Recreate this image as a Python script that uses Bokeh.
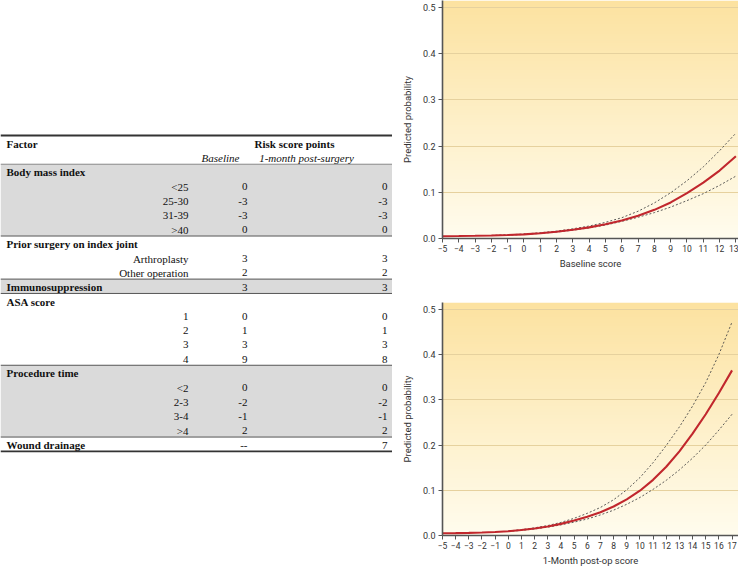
import numpy as np
from bokeh.plotting import figure
from bokeh.layouts import row, column
from bokeh.models import Range1d, FixedTicker, PrintfTickFormatter, CustomJSTickFormatter, ColumnDataSource
from bokeh.core.properties import value
from bokeh.embed import file_html
from bokeh.resources import INLINE

# ---------------- table data ----------------
factor_names = ["Body mass index", "Prior surgery on index joint", "Immunosuppression",
                "ASA score", "Procedure time", "Wound drainage"]
factor_baseline = ["", "", "3", "", "", "--"]
factor_month = ["", "", "3", "", "", "7"]
factor_shaded = [True, False, True, False, True, False]

bmi_levels = ["<25", "25-30", "31-39", ">40"]
bmi_baseline = [0, -3, -3, 0]
bmi_month = [0, -3, -3, 0]
prior_levels = ["Arthroplasty", "Other operation"]
prior_baseline = [3, 2]
prior_month = [3, 2]
asa_levels = ["1", "2", "3", "4"]
asa_baseline = [0, 1, 3, 9]
asa_month = [0, 1, 3, 8]
proc_levels = ["<2", "2-3", "3-4", ">4"]
proc_baseline = [0, -2, -1, 2]
proc_month = [0, -2, -1, 2]

level_labels = [bmi_levels, prior_levels, [], asa_levels, proc_levels, []]
level_baseline = [bmi_baseline, prior_baseline, [], asa_baseline, proc_baseline, []]
level_month = [bmi_month, prior_month, [], asa_month, proc_month, []]

header_factor = "Factor"
header_points = "Risk score points"
header_baseline = "Baseline"
header_month = "1-month post-surgery"

# ---------------- chart data ----------------
base_x = list(range(-5, 14))
base_p = [0.0050, 0.0053, 0.0058, 0.0065, 0.0075, 0.0090, 0.0115, 0.0147, 0.0188, 0.0241,
          0.0310, 0.0390, 0.0490, 0.0620, 0.0780, 0.0980, 0.1210, 0.1470, 0.1780]
base_ci_x = list(range(-2, 14))
base_hi = [0.0066, 0.0079, 0.0097, 0.0125, 0.0160, 0.0210, 0.0270, 0.0350, 0.0450, 0.0590,
           0.0770, 0.0990, 0.1250, 0.1550, 0.1900, 0.2280]
base_lo = [0.0063, 0.0072, 0.0088, 0.0110, 0.0140, 0.0180, 0.0230, 0.0290, 0.0370, 0.0460,
           0.0560, 0.0680, 0.0820, 0.0970, 0.1150, 0.1350]

post_x = list(range(-5, 18))
post_p = [0.0050, 0.0053, 0.0058, 0.0066, 0.0078, 0.0095, 0.0120, 0.0155, 0.0200, 0.0257,
          0.0330, 0.0415, 0.0515, 0.0640, 0.0800, 0.0990, 0.1230, 0.1520, 0.1860, 0.2250,
          0.2680, 0.3150, 0.3650]
post_ci_x = list(range(0, 18))
post_hi = [0.0100, 0.0130, 0.0170, 0.0220, 0.0290, 0.0380, 0.0490, 0.0620, 0.0790, 0.1010,
           0.1280, 0.1610, 0.1990, 0.2400, 0.2860, 0.3380, 0.4000, 0.4720]
post_lo = [0.0092, 0.0112, 0.0145, 0.0185, 0.0235, 0.0295, 0.0365, 0.0455, 0.0560, 0.0690,
           0.0840, 0.1020, 0.1220, 0.1450, 0.1710, 0.2000, 0.2330, 0.2680]

y_ticks = [0.0, 0.1, 0.2, 0.3, 0.4, 0.5]
y_label = "Predicted probability"
base_label = "Baseline score"
post_label = "1-Month post-op score"

# ---------------- table figure ----------------
SERIF = value("Liberation Serif")
FS = value("11px")
TOP = 135.0
ROW_H = 14.36
TW = 392

def ymid(r):
    return TOP + (r + 0.5) * ROW_H + 1.0

tbl = figure(width=TW, height=568, x_range=Range1d(0, TW), y_range=Range1d(568, 0),
             output_backend="svg", toolbar_location=None, min_border=0)
tbl.axis.visible = False
tbl.grid.visible = False
tbl.outline_line_color = None
tbl.background_fill_color = "white"
tbl.border_fill_color = "white"

sec = dict(x=[], y=[], text=[])
lev = dict(x=[], y=[], text=[])
bcol = dict(x=[], y=[], text=[])
mcol = dict(x=[], y=[], text=[])
shade = dict(left=[], right=[], top=[], bottom=[])
rules_y = []

r = 2
for i, name in enumerate(factor_names):
    start = r
    sec["x"].append(6); sec["y"].append(ymid(r)); sec["text"].append(name)
    if factor_baseline[i]:
        bcol["x"].append(247); bcol["y"].append(ymid(r)); bcol["text"].append(factor_baseline[i])
        mcol["x"].append(387); mcol["y"].append(ymid(r)); mcol["text"].append(factor_month[i])
    r += 1
    for j, lab in enumerate(level_labels[i]):
        lev["x"].append(188); lev["y"].append(ymid(r)); lev["text"].append(lab)
        bcol["x"].append(247); bcol["y"].append(ymid(r)); bcol["text"].append(str(level_baseline[i][j]))
        mcol["x"].append(387); mcol["y"].append(ymid(r)); mcol["text"].append(str(level_month[i][j]))
        r += 1
    if factor_shaded[i]:
        shade["left"].append(0); shade["right"].append(TW)
        shade["top"].append(TOP + start * ROW_H); shade["bottom"].append(TOP + r * ROW_H)
    rules_y.append(TOP + r * ROW_H)
n_rows = r

tbl.quad(source=ColumnDataSource(shade), left="left", right="right", top="top", bottom="bottom",
         fill_color="#DADADA", line_color=None)
inner = rules_y[:-1]
tbl.segment(x0=[0] * len(inner), x1=[TW] * len(inner), y0=inner, y1=inner,
            line_color="#555555", line_width=1)
tbl.segment(x0=[0], x1=[TW], y0=[TOP + 2 * ROW_H], y1=[TOP + 2 * ROW_H],
            line_color="#888888", line_width=1)
tbl.segment(x0=[0, 0], x1=[TW, TW], y0=[TOP, TOP + n_rows * ROW_H], y1=[TOP, TOP + n_rows * ROW_H],
            line_color="#333333", line_width=1.8)

tbl.text(source=ColumnDataSource(sec), x="x", y="y", text="text", text_font=SERIF, text_font_size=FS,
         text_font_style="bold", text_align="left", text_baseline="middle", text_color="#111111")
tbl.text(source=ColumnDataSource(lev), x="x", y="y", text="text", text_font=SERIF, text_font_size=FS,
         text_align="right", text_baseline="middle", text_color="#111111")
tbl.text(source=ColumnDataSource(bcol), x="x", y="y", text="text", text_font=SERIF, text_font_size=FS,
         text_align="right", text_baseline="middle", text_color="#111111")
tbl.text(source=ColumnDataSource(mcol), x="x", y="y", text="text", text_font=SERIF, text_font_size=FS,
         text_align="right", text_baseline="middle", text_color="#111111")
tbl.text(x=[6, 294], y=[ymid(0), ymid(0)], text=[header_factor, header_points], text_font=SERIF,
         text_font_size=FS, text_font_style="bold", text_align=["left", "center"],
         text_baseline="middle", text_color="#111111")
tbl.text(x=[220, 306], y=[ymid(1), ymid(1)], text=[header_baseline, header_month], text_font=SERIF,
         text_font_size=FS, text_font_style="italic", text_align="center",
         text_baseline="middle", text_color="#111111")

# ---------------- charts ----------------
YTOP = 0.515

def make_chart(xs, ps, cxs, his, los, xmax_tick, xend, xlabel, height, btop, bbottom):
    p = figure(width=346, height=height, x_range=Range1d(-5, xend), y_range=Range1d(0, YTOP),
               output_backend="svg", toolbar_location=None,
               min_border_left=50, min_border_right=0, min_border_top=btop, min_border_bottom=bbottom)
    p.outline_line_color = None
    p.background_fill_color = "white"
    p.border_fill_color = "white"
    # vertical gradient background
    n = 256
    t = np.linspace(0.0, 1.0, n)
    bot = np.array([255, 252, 238], dtype=float)
    top = np.array([252, 226, 160], dtype=float)
    img = np.empty((n, 2), dtype=np.uint32)
    view = img.view(dtype=np.uint8).reshape((n, 2, 4))
    for c in range(3):
        col = np.round(bot[c] + (top[c] - bot[c]) * t).astype(np.uint8)
        view[:, 0, c] = col
        view[:, 1, c] = col
    view[:, :, 3] = 255
    p.image_rgba(image=[img], x=-5, y=0, dw=xend + 5, dh=YTOP, level="image")

    p.xgrid.visible = False
    p.ygrid.grid_line_color = "#E6D19E"
    p.ygrid.grid_line_width = 1

    p.line(cxs, his, line_color="#4a4a4a", line_width=0.9, line_dash="2 2")
    p.line(cxs, los, line_color="#4a4a4a", line_width=0.9, line_dash="2 2")
    p.line(xs, ps, line_color="#C1272D", line_width=2.1)

    p.xaxis.ticker = FixedTicker(ticks=list(range(-5, xmax_tick + 1)))
    p.xaxis.formatter = CustomJSTickFormatter(code="return tick < 0 ? '\u2212' + Math.abs(tick) : tick.toString();")
    p.yaxis.ticker = FixedTicker(ticks=y_ticks)
    p.yaxis.formatter = PrintfTickFormatter(format="%.1f")
    p.ygrid.ticker = FixedTicker(ticks=y_ticks)
    for ax in (p.xaxis, p.yaxis):
        ax.axis_line_color = "#555555"
        ax.axis_line_width = 1.6
        ax.major_tick_line_color = "#555555"
        ax.major_tick_line_width = 1
        ax.major_tick_in = 0
        ax.major_tick_out = 4
        ax.minor_tick_line_color = None
        ax.major_label_text_font = "Roboto"
        ax.major_label_text_font_size = "9px"
        ax.major_label_text_color = "#333333"
        ax.major_label_standoff = 3
        ax.axis_label_text_font = "Roboto"
        ax.axis_label_text_font_size = "9.5px"
        ax.axis_label_text_font_style = "normal"
        ax.axis_label_text_color = "#333333"
    p.xaxis.major_label_text_font_size = "8.5px"
    p.xaxis.major_label_standoff = 2
    p.xaxis.axis_label = xlabel
    p.xaxis.axis_label_standoff = 3
    p.yaxis.axis_label = y_label
    p.yaxis.axis_label_standoff = 7
    return p

top_chart = make_chart(base_x, base_p, base_ci_x, base_hi, base_lo, 13, 13.16, base_label, 274, 0, 36)
bot_chart = make_chart(post_x, post_p, post_ci_x, post_hi, post_lo, 17, 17.49, post_label, 294, 28, 31)

layout = row(tbl, column(top_chart, bot_chart, spacing=0), spacing=0)

open("out.html", "w").write(file_html(layout, INLINE))
